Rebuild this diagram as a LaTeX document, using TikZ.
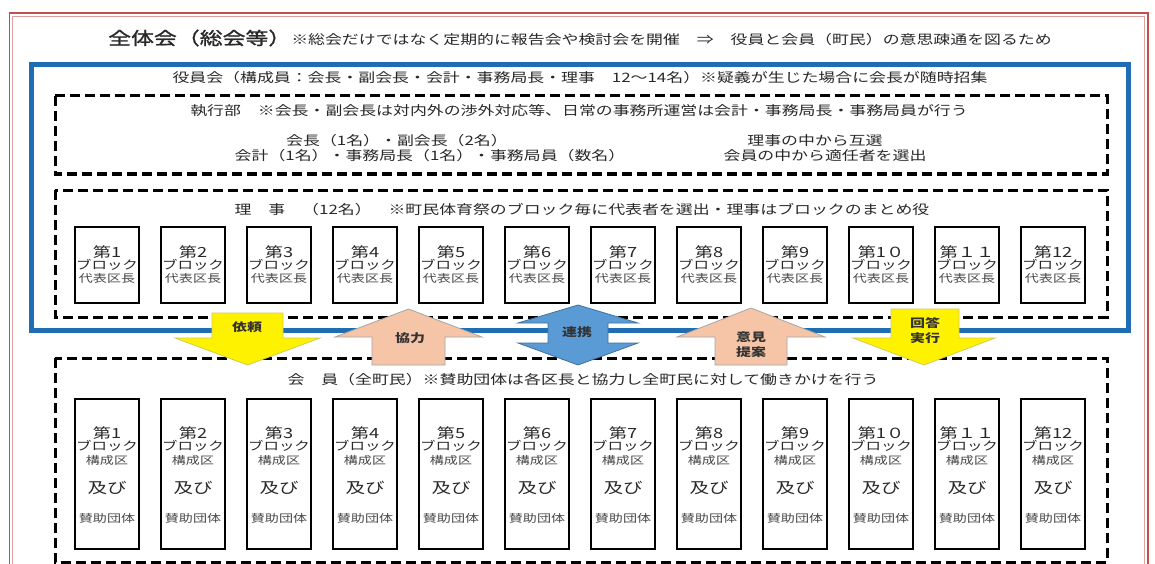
\documentclass[tikz,border=0pt]{standalone}
\usepackage{fontspec}
\newfontfamily\jp[FakeStretch=1.3]{Noto Sans CJK JP}
\newfontfamily\jptitle[FakeStretch=1.3,FakeBold=1.2]{Noto Sans CJK JP}
\definecolor{bluebox}{RGB}{31,110,180}
\definecolor{redout}{RGB}{192,80,80}
\definecolor{redin}{RGB}{225,160,160}
\definecolor{peach}{RGB}{246,196,166}
\definecolor{arrblue}{RGB}{91,155,213}
\definecolor{arrblueb}{RGB}{65,113,156}
\definecolor{txtc}{RGB}{40,40,40}
\begin{document}
\begin{tikzpicture}[x=1pt,y=-1pt,
  dashbox/.style={draw=black, line width=3pt, dash pattern=on 10pt off 5pt},
  blk/.style={draw=black, line width=2pt, minimum width=64pt, minimum height=76pt, inner sep=0pt, fill=white},
  mblk/.style={blk, minimum height=150pt},
  txt/.style={font=\jp\fontsize{13}{15}\selectfont, text=txtc, inner sep=0pt},
  numt/.style={font=\jp\fontsize{14}{16}\selectfont, text=txtc, inner sep=0pt},
  blt/.style={font=\jp\fontsize{11.9}{14}\selectfont, text=txtc, inner sep=0pt},
  smt/.style={font=\jp\fontsize{10.8}{13}\selectfont, text=txtc!85, inner sep=0pt},
  oyt/.style={font=\jp\fontsize{15}{17}\selectfont, text=txtc, inner sep=0pt},
  arrlab/.style={font=\jp\bfseries\fontsize{11.5}{13}\selectfont, text=black!80, inner sep=0pt},
  arrY/.style={fill=yellow, draw=yellow!60!gray, line width=0.8pt},
  arrP/.style={fill=peach, draw=gray!70, line width=0.8pt},
  arrB/.style={fill=arrblue, draw=arrblueb, line width=0.8pt}
]
\useasboundingbox (0,0) rectangle (1155,564);
\clip (0,0) rectangle (1155,564);
\fill[white] (0,0) rectangle (1155,564);
% red double frame
\draw[redout, line width=1.4pt] (9.5,13) rectangle (1148,620);
\draw[redin, line width=1pt] (12.8,16.3) rectangle (1144.7,620);
% title
\node[txt] (title) at (580,38) {{\jptitle\fontsize{17.6}{19}\selectfont 全体会（総会等）}※総会だけではなく定期的に報告会や検討会を開催　⇒　役員と会員（町民）の意思疎通を図るため};
% blue box
\draw[bluebox, line width=5pt] (31.5,64.5) rectangle (1128.5,330.5);
\node[txt] (yakuin) at (580,78) {役員会（構成員：会長・副会長・会計・事務局長・理事　12～14名）※疑義が生じた場合に会長が随時招集};
% executive
\draw[dashbox] (55,96) rectangle (1107,174);
\node[txt] (shikko) at (579,111) {執行部　※会長・副会長は対内外の渉外対応等、日常の事務所運営は会計・事務局長・事務局員が行う};
\node[txt] (e1) at (397,141) {会長（1名）・副会長（2名）};
\node[txt] (e2) at (430,156) {会計（1名）・事務局長（1名）・事務局員（数名）};
\node[txt] (e3) at (815,141) {理事の中から互選};
\node[txt] (e4) at (825,156) {会員の中から適任者を選出};
% riji
\draw[dashbox] (55,190) rectangle (1107,317);
\node[txt] (riji) at (582,210) {理　事　（12名）　※町民体育祭のブロック毎に代表者を選出・理事はブロックのまとめ役};
% members
\draw[dashbox] (55,358) rectangle (1107,562);
\node[txt] (kaiin) at (583,380) {会　員（全町民）※賛助団体は各区長と協力し全町民に対して働きかけを行う};
\foreach \i/\lab in {1/1,2/2,3/3,4/4,5/5,6/6,7/7,8/8,9/9,10/1０,11/１１,12/12}{
  \pgfmathsetmacro\cx{107+86*(\i-1)}
  \node[blk] (r\i) at (\cx,265) {};
  \node[numt] (rn\i) at ([yshift=13pt]r\i.center) {第\lab};
  \node[blt] (rb\i) at ([yshift=0pt]r\i.center) {ブロック};
  \node[smt] (rd\i) at ([yshift=-13pt]r\i.center) {代表区長};
  \node[mblk] (m\i) at (\cx,474) {};
  \node[numt] (mn\i) at ([yshift=41pt]m\i.center) {第\lab};
  \node[blt] (mb\i) at ([yshift=28pt]m\i.center) {ブロック};
  \node[smt] (mk\i) at ([yshift=14pt]m\i.center) {構成区};
  \node[oyt] (mo\i) at ([yshift=-14pt]m\i.center) {及び};
  \node[smt] (ms\i) at ([yshift=-44pt]m\i.center) {賛助団体};
}
% arrows
\draw[arrY] (212,313) -- (283,313) -- (283,338) -- (320,338) -- (247.5,365) -- (175,338) -- (212,338) -- cycle;
\draw[arrP] (408.5,309) -- (482,337) -- (445,337) -- (445,365) -- (372,365) -- (372,337) -- (335,337) -- cycle;
\draw[arrB] (578,305) -- (638,323) -- (608,323) -- (608,343) -- (638,343) -- (578,365) -- (518,343) -- (548,343) -- (548,323) -- (518,323) -- cycle;
\draw[arrP] (751,308) -- (825,337) -- (787,337) -- (787,365) -- (715,365) -- (715,337) -- (677,337) -- cycle;
\draw[arrY] (891,309) -- (959,309) -- (959,338) -- (995,338) -- (924,365) -- (853,338) -- (891,338) -- cycle;
\node[arrlab] (a1) at (247,327) {依頼};
\node[arrlab] (a2) at (410,338) {協力};
\node[arrlab] (a3) at (577,332) {連携};
\node[arrlab] (a4) at (751,337) {意見};
\node[arrlab] (a5) at (751,352) {提案};
\node[arrlab] (a6) at (925,323) {回答};
\node[arrlab] (a7) at (925,338) {実行};
\end{tikzpicture}
\end{document}
